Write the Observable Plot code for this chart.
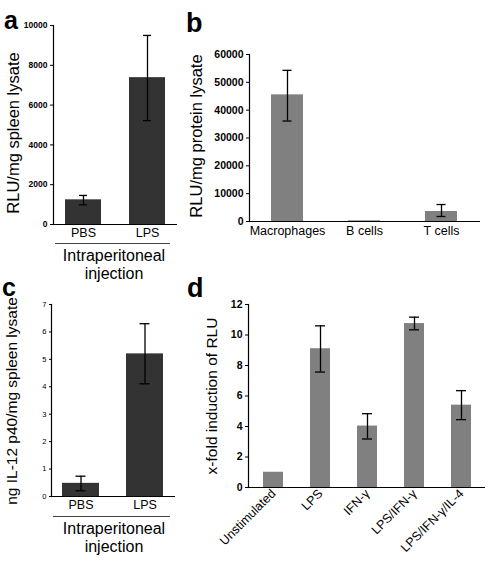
<!DOCTYPE html>
<html>
<head>
<meta charset="utf-8">
<script src="https://cdn.jsdelivr.net/npm/d3@7"></script>
<script src="https://cdn.jsdelivr.net/npm/@observablehq/plot@0.6"></script>
<style>
  html, body { margin: 0; padding: 0; background: #fff; }
  #fig { position: relative; width: 490px; height: 561px; overflow: hidden; background: #fff; font-family: "Liberation Sans", Arial, sans-serif; }
  #fig > div.panel { position: absolute; }
  #fig svg { overflow: visible; }
  #overlay { position: absolute; left: 0; top: 0; pointer-events: none; }
</style>
</head>
<body>
<div id="fig"></div>
<script>
// ---------- Panel a ----------
const catsA = ["PBS", "LPS"];
const valsA = [1240, 7380];
const errLoA = [990, 5220];
const errHiA = [1460, 9500];
const ticksA = [0, 2000, 4000, 6000, 8000, 10000];

// ---------- Panel b ----------
const catsB = ["Macrophages", "B cells", "T cells"];
const valsB = [45500, 250, 3600];
const errLoB = [36100, null, 1800];
const errHiB = [54300, null, 6100];
const ticksB = [0, 10000, 20000, 30000, 40000, 50000, 60000];

// ---------- Panel c ----------
const catsC = ["PBS", "LPS"];
const valsC = [0.48, 5.2];
const errLoC = [0.21, 4.11];
const errHiC = [0.74, 6.3];
const ticksC = [0, 1, 2, 3, 4, 5, 6, 7];

// ---------- Panel d ----------
const catsD = ["Unstimulated", "LPS", "IFN-γ", "LPS/IFN-γ", "LPS/IFN-γ/IL-4"];
const valsD = [1.0, 9.1, 4.03, 10.75, 5.4];
const errLoD = [null, 7.57, 3.18, 10.34, 4.45];
const errHiD = [null, 10.6, 4.84, 11.17, 6.35];
const ticksD = [0, 2, 4, 6, 8, 10, 12];

const FONT = "Liberation Sans, Arial, sans-serif";

function rows(cats, vals, lo, hi) {
  return cats.map((c, i) => ({cat: c, v: vals[i], lo: lo[i], hi: hi[i]}));
}

function panel(cfg) {
  const data = rows(cfg.cats, cfg.vals, cfg.lo, cfg.hi);
  const errs = data.filter(d => d.lo != null && d.hi != null);
  const chart = Plot.plot({
    width: cfg.width, height: cfg.height,
    marginLeft: cfg.ml, marginRight: cfg.mr, marginTop: cfg.mt, marginBottom: cfg.mb,
    style: {fontFamily: FONT, background: "transparent", color: "#000", overflow: "visible"},
    x: {domain: cfg.cats, paddingInner: cfg.pi, paddingOuter: cfg.po, axis: null},
    y: {domain: cfg.ydomain, axis: null},
    marks: [
      Plot.barY(data, {x: "cat", y: "v", fill: cfg.color}),
      Plot.ruleX(errs, {x: "cat", y1: "lo", y2: "hi", stroke: "#000", strokeWidth: 1.3}),
      Plot.tickY(errs, {x: "cat", y: "hi", stroke: "#000", strokeWidth: 1.3, insetLeft: cfg.capInset, insetRight: cfg.capInset}),
      Plot.tickY(errs, {x: "cat", y: "lo", stroke: "#000", strokeWidth: 1.3, insetLeft: cfg.capInset, insetRight: cfg.capInset}),
      Plot.frame({anchor: "left", stroke: "#000", strokeWidth: 1.2}),
      Plot.ruleY([0], {stroke: "#000", strokeWidth: 1.2}),
      Plot.axisY({ticks: cfg.yticks, tickSize: cfg.ytickSize, tickPadding: cfg.ytickPad, fontSize: cfg.yfont, fontWeight: cfg.yweight, label: null, tickFormat: d => String(d)}),
      Plot.axisX({tickSize: 0, tickPadding: cfg.xpad, fontSize: cfg.xfont, tickRotate: cfg.xrot || 0, label: null})
    ]
  });
  const holder = document.createElement("div");
  holder.className = "panel";
  holder.style.left = cfg.left + "px";
  holder.style.top = cfg.top + "px";
  holder.appendChild(chart);
  document.getElementById("fig").appendChild(holder);
}

panel({cats: catsA, vals: valsA, lo: errLoA, hi: errHiA, color: "#333333",
  left: 0, top: 0, width: 180, height: 250, ml: 53, mr: 3, mt: 25, mb: 26,
  pi: 0.43, po: 0.17, ydomain: [0, 10000], yticks: ticksA, ytickSize: 3, ytickPad: 3,
  yfont: 8.5, yweight: "bold", xfont: 12.5, xpad: 4, capInset: 14});

panel({cats: catsB, vals: valsB, lo: errLoB, hi: errHiB, color: "#808080",
  left: 180, top: 0, width: 310, height: 250, ml: 69, mr: 10, mt: 54, mb: 29,
  pi: 0.58, po: 0.29, ydomain: [0, 60000], yticks: ticksB, ytickSize: 3, ytickPad: 3,
  yfont: 10.5, yweight: "bold", xfont: 12.5, xpad: 5, capInset: 11.5});

panel({cats: catsC, vals: valsC, lo: errLoC, hi: errHiC, color: "#333333",
  left: 0, top: 280, width: 180, height: 240, ml: 51, mr: 5, mt: 24, mb: 24,
  pi: 0.42, po: 0.17, ydomain: [0, 7], yticks: ticksC, ytickSize: 2, ytickPad: 3,
  yfont: 7.5, yweight: "normal", xfont: 12.5, xpad: 4, capInset: 13.5});

panel({cats: catsD, vals: valsD, lo: errLoD, hi: errHiD, color: "#808080",
  left: 180, top: 280, width: 310, height: 281, ml: 68, mr: 5, mt: 24, mb: 74,
  pi: 0.58, po: 0.29, ydomain: [0, 12], yticks: ticksD, ytickSize: 3, ytickPad: 3,
  yfont: 10.5, yweight: "bold", xfont: 12.5, xpad: 4, xrot: -45, capInset: 5});

// ---------- annotations (panel letters, axis titles, group labels) ----------
const NS = "http://www.w3.org/2000/svg";
const ov = document.createElementNS(NS, "svg");
ov.setAttribute("id", "overlay");
ov.setAttribute("width", 490);
ov.setAttribute("height", 561);
document.getElementById("fig").appendChild(ov);

function txt(s, x, y, size, opts = {}) {
  const t = document.createElementNS(NS, "text");
  t.textContent = s;
  t.setAttribute("x", x); t.setAttribute("y", y);
  t.setAttribute("font-family", FONT);
  t.setAttribute("font-size", size);
  t.setAttribute("fill", "#000");
  if (opts.weight) t.setAttribute("font-weight", opts.weight);
  if (opts.anchor) t.setAttribute("text-anchor", opts.anchor);
  if (opts.rotate) t.setAttribute("transform", `rotate(${opts.rotate} ${x} ${y})`);
  ov.appendChild(t);
}
function line(x1, y1, x2, y2) {
  const l = document.createElementNS(NS, "line");
  l.setAttribute("x1", x1); l.setAttribute("y1", y1);
  l.setAttribute("x2", x2); l.setAttribute("y2", y2);
  l.setAttribute("stroke", "#444"); l.setAttribute("stroke-width", 1);
  ov.appendChild(l);
}

// panel letters
txt("a", 4, 29, 25, {weight: "bold"});
txt("b", 186, 32, 27, {weight: "bold"});
txt("c", 2, 296, 25, {weight: "bold"});
txt("d", 187, 297, 27, {weight: "bold"});

// y titles
txt("RLU/mg spleen lysate", 19, 133, 16.5, {anchor: "middle", rotate: -90});
txt("RLU/mg protein lysate", 202, 136, 16.5, {anchor: "middle", rotate: -90});
txt("ng IL-12 p40/mg spleen lysate", 17, 401, 15.5, {anchor: "middle", rotate: -90});
txt("x-fold induction of RLU", 217, 396, 15.5, {anchor: "middle", rotate: -90});

// group labels
line(55, 243.5, 170, 243.5);
txt("Intraperitoneal", 114, 261, 16, {anchor: "middle"});
txt("injection", 114, 279, 16, {anchor: "middle"});
line(53, 516.5, 170, 516.5);
txt("Intraperitoneal", 114, 534, 16, {anchor: "middle"});
txt("injection", 114, 552, 16, {anchor: "middle"});
</script>
</body>
</html>
